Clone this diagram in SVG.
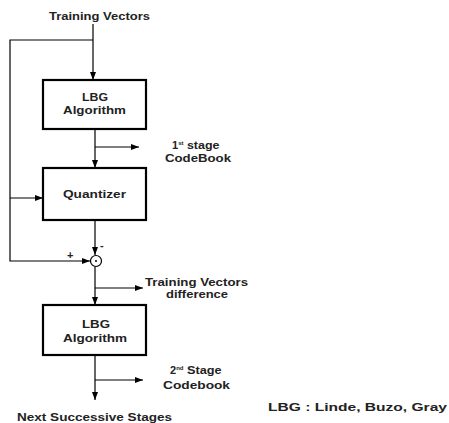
<svg xmlns="http://www.w3.org/2000/svg" width="449" height="423" viewBox="0 0 449 423">
<style>
text{font-family:"Liberation Sans",Arial,sans-serif;font-weight:bold;font-size:11px;fill:#222}
.box{fill:#fff;stroke:#000;stroke-width:2.2}
.ln{fill:none;stroke:#000;stroke-width:1.2}
</style>
<defs>
<marker id="ah" markerWidth="8" markerHeight="6" refX="8" refY="3" orient="auto" markerUnits="userSpaceOnUse">
<path d="M0,0 L8,3 L0,6 Z" fill="#000"/>
</marker>
</defs>
<rect width="449" height="423" fill="#fff"/>
<g id="connectors">
<path class="ln" d="M93,24 V80" marker-end="url(#ah)"/>
<path class="ln" d="M93,40 H10 V261 H90" marker-end="url(#ah)"/>
<path class="ln" d="M10,198 H43" marker-end="url(#ah)"/>
<path class="ln" d="M95,130 V168" marker-end="url(#ah)"/>
<path class="ln" d="M95,147 H139" marker-end="url(#ah)"/>
<path class="ln" d="M95,221 V255" marker-end="url(#ah)"/>
<path class="ln" d="M95,267 V305" marker-end="url(#ah)"/>
<path class="ln" d="M95,288 H143" marker-end="url(#ah)"/>
<path class="ln" d="M95,356 V400" marker-end="url(#ah)"/>
<path class="ln" d="M95,380 H143" marker-end="url(#ah)"/>
</g>
<g id="input"><text x="49" y="20" textLength="101" lengthAdjust="spacingAndGlyphs">Training Vectors</text></g>
<g id="lbg1">
<rect class="box" x="43" y="80" width="103" height="49"/>
<text x="82" y="101" textLength="26" lengthAdjust="spacingAndGlyphs">LBG</text>
<text x="63" y="114" textLength="63" lengthAdjust="spacingAndGlyphs">Algorithm</text>
</g>
<g id="cb1">
<text x="172" y="149">1<tspan font-size="6" dy="-4">st</tspan><tspan dy="4" textLength="36" lengthAdjust="spacingAndGlyphs"> stage</tspan></text>
<text x="165" y="162" textLength="66" lengthAdjust="spacingAndGlyphs">CodeBook</text>
</g>
<g id="quantizer">
<rect class="box" x="43" y="168" width="103" height="52"/>
<text x="63" y="198" textLength="63" lengthAdjust="spacingAndGlyphs">Quantizer</text>
</g>
<g id="sum">
<circle cx="96" cy="261" r="5.5" fill="#fff" stroke="#000" stroke-width="1.2"/>
<circle cx="96" cy="261" r="1" fill="#000"/>
<text x="100" y="249" font-size="9">-</text>
<text x="67" y="259" font-size="9">+</text>
</g>
<g id="diff">
<text x="145" y="286" textLength="103" lengthAdjust="spacingAndGlyphs">Training Vectors</text>
<text x="166" y="298" textLength="62" lengthAdjust="spacingAndGlyphs">difference</text>
</g>
<g id="lbg2">
<rect class="box" x="43" y="305" width="103" height="50"/>
<text x="82" y="328" textLength="28" lengthAdjust="spacingAndGlyphs">LBG</text>
<text x="63" y="342" textLength="64" lengthAdjust="spacingAndGlyphs">Algorithm</text>
</g>
<g id="cb2">
<text x="170" y="374">2<tspan font-size="6" dy="-4">nd</tspan><tspan dy="4" textLength="38" lengthAdjust="spacingAndGlyphs"> Stage</tspan></text>
<text x="163" y="389" textLength="67" lengthAdjust="spacingAndGlyphs">Codebook</text>
</g>
<g id="next"><text x="17" y="421" font-size="11.5" textLength="155" lengthAdjust="spacingAndGlyphs">Next Successive Stages</text></g>
<g id="legend"><text x="268" y="411" font-size="12.5" textLength="179" lengthAdjust="spacingAndGlyphs">LBG : Linde, Buzo, Gray</text></g>
</svg>
